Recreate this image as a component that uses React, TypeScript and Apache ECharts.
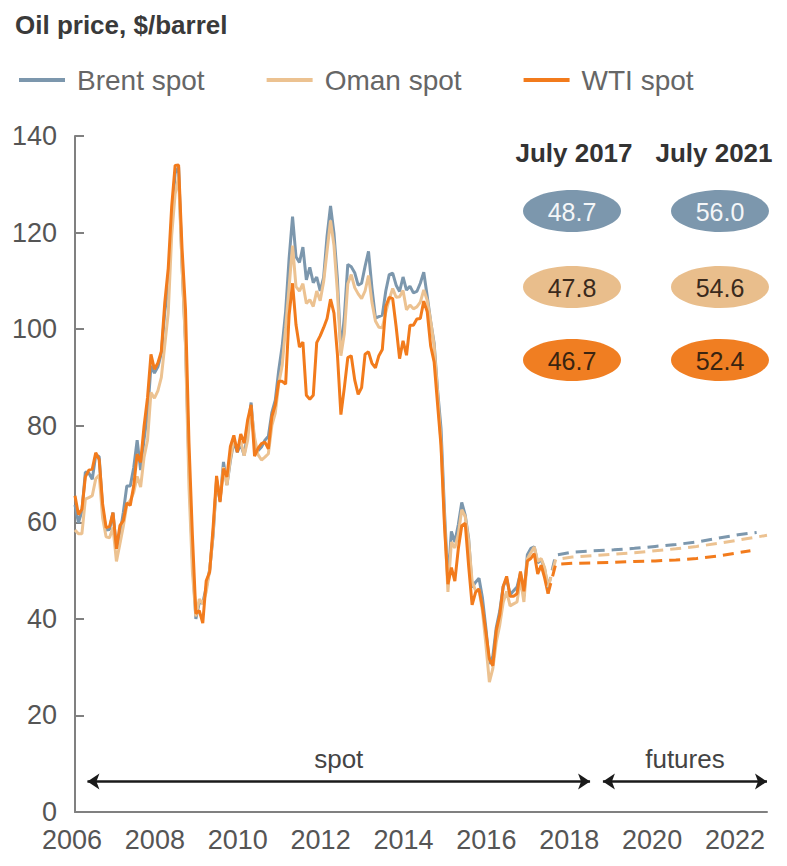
import React, { useEffect, useRef } from "react";
import * as echarts from "echarts";

// ---------- data ----------
const START_YEAR = 2006; // monthly spot data from Jan 2006 to Jun 2017

const brentSpot = [
  63.6, 59.9, 62.3, 70.4, 70.2, 68.9, 73.9, 73.6, 62.8, 58.4, 58.5, 62.0,
  54.6, 57.5, 62.1, 67.5, 67.5, 71.3, 77.0, 70.8, 77.2, 82.3, 92.4, 90.9,
  92.2, 95.0, 103.6, 109.1, 122.8, 132.3, 133.6, 113.2, 97.2, 71.6, 52.5, 40.0,
  43.4, 43.3, 46.5, 50.2, 57.3, 68.6, 64.4, 72.5, 67.7, 72.8, 76.7, 74.5,
  76.2, 73.8, 78.8, 84.8, 76.0, 74.8, 75.6, 77.0, 77.8, 82.7, 85.3, 91.5,
  96.5, 103.7, 114.6, 123.3, 115.0, 113.8, 117.0, 110.2, 112.8, 109.6, 110.8, 107.9,
  110.7, 119.3, 125.5, 119.8, 110.3, 95.2, 102.6, 113.4, 112.9, 111.7, 109.1, 109.5,
  113.0, 116.1, 108.5, 102.3, 102.6, 102.9, 107.9, 111.3, 111.6, 109.1, 107.8, 110.8,
  108.1, 108.9, 107.5, 107.8, 109.5, 111.8, 106.8, 101.6, 97.1, 87.4, 79.4, 62.3,
  47.8, 58.1, 55.9, 59.5, 64.1, 61.5, 56.6, 46.5, 47.6, 48.4, 44.3, 38.0,
  30.7, 32.2, 38.2, 41.6, 46.7, 48.3, 45.0, 45.8, 46.6, 49.5, 44.7, 53.3,
  54.6, 54.9, 51.6, 52.3, 50.3, 46.4,
];

const omanSpot = [
  58.4, 57.6, 57.6, 64.8, 65.1, 65.5, 69.0, 69.8, 60.9, 57.0, 56.8, 58.9,
  51.9, 55.5, 59.2, 63.6, 64.5, 66.2, 69.5, 67.3, 73.5, 77.0, 86.9, 85.7,
  87.2, 90.0, 96.7, 103.4, 119.4, 128.0, 131.5, 113.2, 96.4, 67.4, 49.8, 40.5,
  44.1, 43.1, 45.6, 50.1, 57.7, 68.9, 64.9, 71.4, 67.7, 73.2, 77.0, 75.5,
  76.7, 73.8, 77.0, 83.7, 77.6, 74.0, 72.9, 73.5, 74.2, 80.0, 82.6, 88.7,
  92.5, 100.3, 108.7, 117.3, 108.8, 107.9, 109.4, 105.3, 106.1, 104.7, 107.9, 105.9,
  109.8, 116.2, 122.5, 117.3, 107.6, 94.5, 99.1, 109.4, 111.3, 108.6, 107.3, 106.3,
  107.9, 111.1, 105.5, 101.7, 100.4, 100.3, 103.5, 106.2, 108.4, 106.6, 106.7, 108.0,
  104.0, 105.0, 104.2, 104.6, 105.6, 108.1, 106.0, 101.7, 96.6, 86.7, 76.4, 60.5,
  45.6, 55.9, 54.7, 57.5, 62.6, 61.2, 56.2, 47.8, 45.8, 46.0, 41.6, 34.6,
  26.9, 29.7, 35.2, 38.7, 43.4, 45.7, 42.7, 43.1, 43.5, 48.2, 43.5, 52.4,
  53.7, 54.9, 51.9, 52.5, 50.6, 46.5,
];

const wtiSpot = [
  65.5, 61.6, 62.7, 69.4, 70.8, 71.0, 74.4, 73.0, 63.8, 58.9, 59.1, 62.0,
  54.5, 59.3, 60.4, 64.0, 63.5, 67.5, 74.1, 72.4, 79.9, 85.8, 94.8, 91.7,
  93.0, 95.4, 105.5, 112.6, 125.4, 133.9, 134.0, 116.7, 104.1, 76.6, 57.3, 41.1,
  41.7, 39.1, 47.9, 49.7, 59.0, 69.6, 64.2, 71.1, 69.4, 75.7, 78.0, 74.5,
  78.3, 76.4, 81.2, 84.3, 73.7, 75.3, 76.3, 76.6, 75.2, 81.9, 84.3, 89.2,
  89.2, 88.6, 102.9, 109.5, 100.9, 96.3, 97.3, 86.3, 85.5, 86.3, 97.2, 98.6,
  100.3, 102.2, 106.2, 103.3, 94.7, 82.3, 87.9, 94.1, 94.5, 89.5, 86.5, 87.9,
  94.8, 95.3, 92.9, 92.0, 94.5, 95.8, 104.7, 106.6, 106.3, 100.5, 93.9, 97.6,
  94.6, 100.8, 100.8, 102.1, 102.2, 105.8, 103.6, 96.5, 93.2, 84.4, 75.8, 59.3,
  47.2, 50.6, 47.8, 54.5, 59.3, 59.8, 50.9, 42.9, 45.5, 46.2, 42.4, 37.2,
  31.7, 30.3, 37.6, 40.8, 46.7, 48.8, 44.7, 44.7, 45.2, 49.8, 45.7, 52.0,
  52.5, 53.5, 49.3, 51.1, 48.5, 45.2,
];

// futures curves: [year, $/barrel]
const brentFutures = [
  [2017.6, 53.2], [2018.0, 53.8], [2018.5, 54.1], [2019.0, 54.3], [2019.5, 54.6],
  [2020.0, 55.0], [2020.5, 55.4], [2021.0, 55.9], [2021.5, 56.7], [2022.0, 57.4], [2022.45, 57.9],
];
const omanFutures = [
  [2017.6, 52.3], [2018.0, 52.8], [2018.5, 53.1], [2019.0, 53.4], [2019.5, 53.7],
  [2020.0, 54.1], [2020.5, 54.5], [2021.0, 55.0], [2021.5, 55.6], [2022.0, 56.3], [2022.7, 57.3],
];
const wtiFutures = [
  [2017.6, 51.3], [2018.0, 51.5], [2018.5, 51.6], [2019.0, 51.7], [2019.5, 51.9],
  [2020.0, 52.0], [2020.5, 52.2], [2021.0, 52.5], [2021.5, 53.0], [2022.0, 53.7], [2022.3, 54.1],
];

const seriesNames = ["Brent spot", "Oman spot", "WTI spot"];
const xTickValues = [2006, 2008, 2010, 2012, 2014, 2016, 2018, 2020, 2022];
const X_MIN = 2006;
const X_MAX = 2022.7;
const Y_MIN = 0;
const Y_MAX = 140;
const Y_STEP = 20;

const tableHeaders = ["July 2017", "July 2021"];
const tableBrent = ["48.7", "56.0"];
const tableOman = ["47.8", "54.6"];
const tableWti = ["46.7", "52.4"];

const periodLabels = ["spot", "futures"];
const periodRanges = [
  [2006.3, 2018.43],
  [2018.74, 2022.7],
];
const PERIOD_Y = 6.3;

// ---------- styles ----------
const BRENT = "#7C97AD";
const OMAN = "#ECC291";
const WTI = "#F27B1C";
const FONT = "'Liberation Sans', Arial, Helvetica, sans-serif";

const toMonthly = (vals: number[]) =>
  vals.map((v, i) => [START_YEAR + i / 12, v]);

const withJoin = (spot: number[], fut: number[][]) => [
  [START_YEAR + (spot.length - 1) / 12, spot[spot.length - 1]],
  ...fut,
];

export default function App() {
  const ref = useRef<HTMLDivElement>(null);

  useEffect(() => {
    if (!ref.current) return;
    const chart = echarts.init(ref.current, undefined, { renderer: "svg" });

    const spotSeries = [
      { name: seriesNames[0], data: toMonthly(brentSpot), color: BRENT },
      { name: seriesNames[1], data: toMonthly(omanSpot), color: OMAN },
      { name: seriesNames[2], data: toMonthly(wtiSpot), color: WTI },
    ].map((s) => ({
      type: "line",
      name: s.name,
      data: s.data,
      showSymbol: false,
      symbol: "none",
      color: s.color,
      lineStyle: { color: s.color, width: 3 },
      z: 3,
    }));

    const futSeries = [
      { name: "Brent futures", data: withJoin(brentSpot, brentFutures), color: BRENT },
      { name: "Oman futures", data: withJoin(omanSpot, omanFutures), color: OMAN },
      { name: "WTI futures", data: withJoin(wtiSpot, wtiFutures), color: WTI },
    ].map((s) => ({
      type: "line",
      name: s.name,
      data: s.data,
      showSymbol: false,
      symbol: "none",
      color: s.color,
      lineStyle: { color: s.color, width: 3, type: [11, 7] },
      z: 3,
    }));

    const arrowSeries = {
      type: "line",
      name: "periods",
      data: [],
      markLine: {
        silent: true,
        symbol: ["arrow", "arrow"],
        symbolSize: 12,
        lineStyle: { color: "#1a1a1a", width: 2.5, type: "solid" },
        label: {
          show: true,
          position: "insideMiddleTop",
          distance: 10,
          fontSize: 26,
          fontFamily: FONT,
          color: "#444",
          formatter: (p: any) => p.name,
        },
        data: periodLabels.map((lab, i) => [
          { name: lab, coord: [periodRanges[i][0], PERIOD_Y] },
          { coord: [periodRanges[i][1], PERIOD_Y] },
        ]),
      },
    };

    const colX = [572, 720];
    const rowY = [211, 287, 360];
    const rows = [
      { vals: tableBrent, fill: BRENT, text: "#f4f6f8" },
      { vals: tableOman, fill: "#E9BE8C", text: "#3b2a1c" },
      { vals: tableWti, fill: "#F07E22", text: "#3a2410" },
    ];
    const graphics: any[] = [];
    tableHeaders.forEach((h, i) => {
      graphics.push({
        type: "text",
        x: colX[i] + (i === 0 ? 2 : -6),
        y: 153,
        style: {
          text: h,
          fontSize: 26,
          fontWeight: "bold",
          fontFamily: FONT,
          fill: "#333",
          align: "center",
          verticalAlign: "middle",
        },
      });
    });
    rows.forEach((r, ri) => {
      r.vals.forEach((v, ci) => {
        graphics.push({
          type: "ellipse",
          shape: { cx: colX[ci], cy: rowY[ri], rx: 49, ry: 21 },
          style: { fill: r.fill },
        });
        graphics.push({
          type: "text",
          x: colX[ci],
          y: rowY[ri] + 1,
          style: {
            text: v,
            fontSize: 25,
            fontFamily: FONT,
            fill: r.text,
            align: "center",
            verticalAlign: "middle",
          },
        });
      });
    });

    chart.setOption({
      animation: false,
      backgroundColor: "#ffffff",
      textStyle: { fontFamily: FONT },
      title: {
        text: "Oil price, $/barrel",
        left: 10,
        top: 7,
        textStyle: { fontSize: 26, fontWeight: "bold", color: "#3a3a3a", fontFamily: FONT },
      },
      legend: {
        data: seriesNames,
        left: 14,
        top: 61,
        itemGap: 62,
        itemWidth: 46,
        itemHeight: 4,
        icon: "rect",
        textStyle: { fontSize: 28, color: "#666", fontFamily: FONT, padding: [0, 0, 0, 7] },
      },
      grid: { left: 75, right: 20, top: 136, bottom: 54, containLabel: false },
      xAxis: {
        type: "value",
        min: X_MIN,
        max: X_MAX,
        interval: 2,
        axisLine: { show: true, lineStyle: { color: "#808080", width: 2 } },
        axisTick: { show: false },
        splitLine: { show: false },
        axisLabel: {
          customValues: xTickValues,
          formatter: (v: number) => String(v),
          fontSize: 27,
          color: "#555",
          margin: 14,
          fontFamily: FONT,
          padding: [0, 6, 0, 0],
        },
      },
      yAxis: {
        type: "value",
        min: Y_MIN,
        max: Y_MAX,
        interval: Y_STEP,
        axisLine: { show: true, lineStyle: { color: "#808080", width: 2 } },
        axisTick: { show: true, inside: true, length: 9, lineStyle: { color: "#808080", width: 2 } },
        splitLine: { show: false },
        axisLabel: { fontSize: 27, color: "#555", margin: 18, fontFamily: FONT },
      },
      series: [...spotSeries, ...futSeries, arrowSeries],
      graphic: graphics,
    });

    return () => chart.dispose();
  }, []);

  return (
    <div
      ref={ref}
      style={{ position: "absolute", left: 0, top: 0, width: 787, height: 866 }}
    />
  );
}
